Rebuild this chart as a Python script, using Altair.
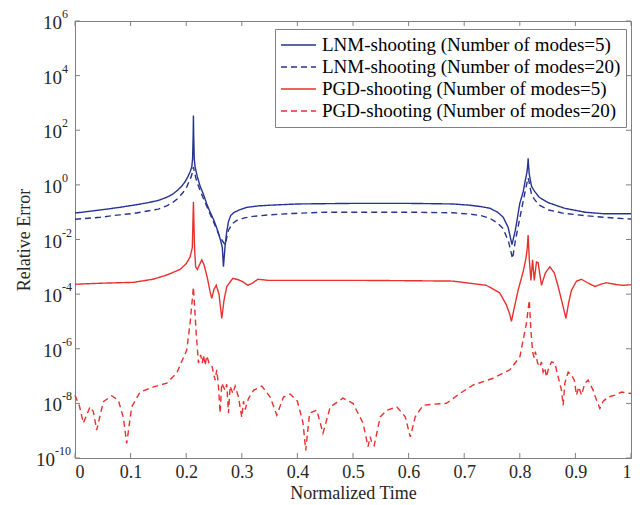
import altair as alt
import pandas as pd

series_names = [
    "LNM-shooting (Number of modes=5)",
    "LNM-shooting (Number of modes=20)",
    "PGD-shooting (Number of modes=5)",
    "PGD-shooting (Number of modes=20)",
]
series_colors = ["#26348f", "#26348f", "#e8312f", "#e8312f"]
series_dashes = [[1, 0], [6, 4], [1, 0], [6, 4]]

# LNM-shooting, 5 modes
lnm5_t = [0.000, 0.045, 0.080, 0.105, 0.130, 0.150, 0.165, 0.176, 0.185, 0.192, 0.198, 0.203,
          0.207, 0.210, 0.2115, 0.2125, 0.213, 0.2135, 0.2145, 0.216, 0.220, 0.225, 0.231,
          0.237, 0.243, 0.249, 0.254, 0.258, 0.262, 0.265, 0.267, 0.270, 0.273,
          0.276, 0.280, 0.285, 0.295, 0.309, 0.330, 0.350, 0.400, 0.500, 0.600, 0.680, 0.710,
          0.730, 0.746, 0.760, 0.770,
          0.779, 0.783, 0.786, 0.789, 0.792, 0.795, 0.800, 0.806, 0.810, 0.813, 0.8145, 0.815,
          0.8155, 0.817, 0.821, 0.826, 0.835, 0.852, 0.880, 0.917, 0.950, 1.000]
lnm5_v = [0.093, 0.12, 0.15, 0.18, 0.22, 0.27, 0.35, 0.46, 0.65, 0.9, 1.3, 2.0,
          3.0, 4.5, 9, 60, 350, 60, 9, 4.5, 2.0, 0.9, 0.45,
          0.2, 0.1, 0.055, 0.03, 0.017, 0.009, 0.005, 0.001, 0.006, 0.02,
          0.045, 0.075, 0.095, 0.12, 0.15, 0.17, 0.18, 0.2, 0.21, 0.21, 0.2, 0.18,
          0.16, 0.14, 0.1, 0.066,
          0.028, 0.012, 0.0065, 0.012, 0.022, 0.05, 0.21, 0.55, 1.5, 3.0, 6.0, 9.5,
          6.0, 2.5, 0.9, 0.6, 0.35, 0.22, 0.14, 0.1, 0.088, 0.088]

# LNM-shooting, 20 modes
lnm20_t = [0.000, 0.045, 0.080, 0.105, 0.130, 0.150, 0.165, 0.176, 0.186, 0.195, 0.201, 0.205,
           0.209, 0.211, 0.213, 0.215, 0.218, 0.222, 0.230, 0.240, 0.250, 0.260, 0.265, 0.270,
           0.276, 0.283, 0.291, 0.305, 0.320, 0.350, 0.393, 0.450, 0.600, 0.680,
           0.710, 0.730, 0.746, 0.760, 0.770, 0.780, 0.787, 0.792, 0.800, 0.808, 0.813, 0.815,
           0.817, 0.821, 0.826, 0.835, 0.852, 0.880, 0.917, 0.950, 1.000]
lnm20_v = [0.055, 0.065, 0.08, 0.09, 0.11, 0.13, 0.17, 0.23, 0.33, 0.55, 0.85, 1.3,
           2.0, 2.8, 4.5, 2.8, 1.6, 0.9, 0.35, 0.12, 0.04, 0.013, 0.009, 0.0063,
           0.022, 0.038, 0.05, 0.062, 0.07, 0.08, 0.09, 0.1, 0.1, 0.095,
           0.085, 0.075, 0.06, 0.04, 0.025, 0.008, 0.002, 0.009, 0.06, 0.4, 1.2, 1.8,
           1.2, 0.45, 0.3, 0.18, 0.12, 0.09, 0.075, 0.065, 0.056]

# PGD-shooting, 5 modes
pgd5_t = [0.000, 0.045, 0.105, 0.140, 0.165, 0.189, 0.200, 0.207, 0.211, 0.213, 0.215, 0.217,
          0.220, 0.224, 0.228, 0.232, 0.238, 0.243, 0.246, 0.250, 0.254, 0.259, 0.264, 0.268,
          0.273, 0.284, 0.295, 0.302, 0.311, 0.320, 0.329, 0.347, 0.400, 0.500, 0.600, 0.680,
          0.740, 0.764, 0.776, 0.782, 0.785, 0.789, 0.797, 0.806, 0.811, 0.813, 0.815, 0.817,
          0.820, 0.823, 0.826, 0.830, 0.833, 0.839, 0.846, 0.854, 0.862, 0.869, 0.876, 0.883,
          0.888, 0.893, 0.902, 0.911, 0.922, 0.935, 0.946, 0.956, 0.970, 0.985, 1.000]
pgd5_v = [2.3e-4, 2.5e-4, 2.7e-4, 3.5e-4, 5e-4, 8e-4, 1.3e-3, 2.3e-3, 5e-3, 0.24, 5e-3, 1e-3,
          8e-4, 1.2e-3, 1.8e-3, 1.2e-3, 4e-4, 1.2e-4, 7e-5, 1.5e-4, 2.1e-4, 1e-4, 1.3e-5, 6e-5,
          1.9e-4, 3.8e-4, 3.3e-4, 2.8e-4, 2.1e-4, 2.6e-4, 3.5e-4, 3.2e-4, 3.2e-4, 3.2e-4, 3.1e-4, 3.0e-4,
          2.1e-4, 1.1e-4, 4e-5, 1.8e-5, 1e-5, 2.5e-5, 1.4e-4, 6.6e-4, 2e-3, 4e-3, 0.0145, 2e-3,
          3.2e-4, 1.8e-3, 3.2e-4, 1.5e-3, 1.4e-3, 2.1e-4, 6e-4, 1e-3, 6e-4, 1.9e-4, 5e-5, 1.3e-5,
          5e-5, 1.4e-4, 3e-4, 3.5e-4, 2.6e-4, 1.9e-4, 2.3e-4, 2.6e-4, 2.3e-4, 2.1e-4, 2.2e-4]

# PGD-shooting, 20 modes
pgd20_t = [0.000, 0.008, 0.015, 0.027, 0.033, 0.039, 0.051, 0.066, 0.078, 0.087, 0.093, 0.102,
           0.117, 0.141, 0.165, 0.183, 0.201, 0.207, 0.213, 0.218, 0.222, 0.226, 0.229, 0.231,
           0.234, 0.237, 0.241, 0.246, 0.249, 0.252, 0.255, 0.258, 0.261, 0.264, 0.267, 0.270,
           0.273, 0.276, 0.279, 0.284, 0.288, 0.294, 0.300, 0.303, 0.306, 0.312, 0.321, 0.336,
           0.351, 0.363, 0.375, 0.387, 0.400, 0.410, 0.415, 0.422, 0.435, 0.446, 0.459, 0.482,
           0.500, 0.518, 0.527, 0.531, 0.534, 0.538, 0.549, 0.561, 0.579, 0.594, 0.603, 0.612,
           0.626, 0.644, 0.668, 0.692, 0.716, 0.752, 0.782, 0.800, 0.812, 0.817, 0.820, 0.823,
           0.826, 0.828, 0.832, 0.836, 0.839, 0.842, 0.845, 0.848, 0.851, 0.857, 0.863, 0.869,
           0.875, 0.878, 0.881, 0.887, 0.893, 0.898, 0.902, 0.906, 0.911, 0.917, 0.923, 0.932,
           0.938, 0.944, 0.950, 0.959, 0.971, 0.983, 1.000]
pgd20_v = [2.0e-8, 8e-9, 1.9e-9, 7.4e-9, 5e-9, 1.05e-9, 1.15e-8, 1.9e-8, 1.3e-8, 3e-9, 3.4e-10, 7.4e-9,
           2.6e-8, 4e-8, 5.5e-8, 1.3e-7, 8.9e-7, 8.7e-6, 1.8e-4, 3.7e-6, 3e-7, 6e-7, 3e-7, 5.9e-7,
           2.5e-7, 5.5e-7, 3e-7, 2.5e-7, 1.3e-7, 7.1e-8, 1.7e-7, 4.3e-8, 4.4e-9, 5.5e-8, 4e-8, 3e-8,
           5e-8, 4.4e-9, 4.3e-8, 2.3e-8, 4.3e-8, 1.7e-8, 3.1e-9, 1.2e-8, 6e-9, 1.5e-8, 3e-8, 4.3e-8,
           1.7e-8, 3.7e-9, 1.7e-8, 2.2e-8, 1.2e-8, 2e-9, 1.9e-10, 4.4e-9, 5.6e-9, 8.1e-10, 7.4e-9, 1.55e-8,
           1.0e-8, 1.9e-9, 2.6e-10, 6e-10, 3.5e-10, 2.8e-10, 3.2e-9, 5.6e-9, 7.4e-9, 3.2e-9, 5.9e-10, 3.2e-9,
           8.5e-9, 9.3e-9, 1.0e-8, 2.3e-8, 4.7e-8, 8.3e-8, 1.7e-7, 5e-7, 8.7e-6, 6e-5, 4.8e-6, 7.8e-7,
           4.6e-7, 7.8e-7, 3e-7, 2.2e-7, 3.3e-7, 1.4e-7, 2e-7, 9.3e-8, 1.7e-7, 3.3e-7, 3e-7, 9.3e-8,
           3e-8, 8.5e-9, 5.5e-8, 1.4e-7, 1.1e-7, 7.1e-8, 2e-8, 4e-8, 2e-8, 5.5e-8, 7.1e-8, 3e-8,
           1.3e-8, 6.5e-9, 1.2e-8, 1.7e-8, 2e-8, 2.6e-8, 2.3e-8]

x_ticks = [0, 0.1, 0.2, 0.3, 0.4, 0.5, 0.6, 0.7, 0.8, 0.9, 1]
y_ticks = [1e-10, 1e-8, 1e-6, 1e-4, 1e-2, 1e0, 1e2, 1e4, 1e6]
y_tick_exponents = ["-10", "-8", "-6", "-4", "-2", "0", "2", "4", "6"]

W, H = 556, 437
FONT = "Liberation Serif"
FRAME = "#808080"
TXT = "#262626"

rows = []
for name, ts, vs in zip(series_names, [lnm5_t, lnm20_t, pgd5_t, pgd20_t],
                        [lnm5_v, lnm20_v, pgd5_v, pgd20_v]):
    for t, v in zip(ts, vs):
        rows.append({"s": name, "t": t, "v": v})
df = pd.DataFrame(rows)

xscale = alt.Scale(domain=[0, 1], nice=False, zero=False)
yscale = alt.Scale(type="log", domain=[1e-10, 1e6], nice=False)

legend = alt.Legend(
    orient="none", legendX=200, legendY=8, title=None,
    symbolType="stroke", symbolSize=1225, symbolStrokeWidth=1.5,
    labelFont=FONT, labelFontSize=19, labelColor="#000000", labelLimit=500,
    labelOffset=5, strokeColor=FRAME, fillColor="white", padding=5,
    clipHeight=22, rowPadding=0,
)

lines = alt.Chart(df).mark_line(strokeWidth=1.4).encode(
    x=alt.X("t:Q", scale=xscale,
            axis=alt.Axis(values=x_ticks, title="Normalized Time", ticks=False, domain=False,
                          grid=False, labelExpr="toString(datum.value)", labelFontSize=18,
                          labelPadding=5, titleFontSize=18, titlePadding=3)),
    y=alt.Y("v:Q", scale=yscale,
            axis=alt.Axis(values=y_ticks, title="Relative Error", ticks=False, domain=False,
                          grid=False, labels=False, titleFontSize=18, titlePadding=42)),
    color=alt.Color("s:N", scale=alt.Scale(domain=series_names, range=series_colors),
                    legend=legend, sort=series_names),
    strokeDash=alt.StrokeDash("s:N", scale=alt.Scale(domain=series_names, range=series_dashes),
                              legend=legend, sort=series_names),
)

xt = pd.DataFrame({"t": x_ticks})
yt = pd.DataFrame({"v": y_ticks, "e": y_tick_exponents})
tick_len = 5
xb = alt.Chart(xt).mark_rule(color=FRAME, strokeWidth=1).encode(
    x="t:Q", y=alt.value(H), y2=alt.value(H - tick_len))
xtp = alt.Chart(xt).mark_rule(color=FRAME, strokeWidth=1).encode(
    x="t:Q", y=alt.value(0), y2=alt.value(tick_len))
yl = alt.Chart(yt).mark_rule(color=FRAME, strokeWidth=1).encode(
    y="v:Q", x=alt.value(0), x2=alt.value(tick_len))
yr = alt.Chart(yt).mark_rule(color=FRAME, strokeWidth=1).encode(
    y="v:Q", x=alt.value(W), x2=alt.value(W - tick_len))

# y tick labels: "10" with a raised exponent
short = "length(datum.e) < 3"
long_ = "length(datum.e) >= 3"
base_short = alt.Chart(yt).transform_filter(short).mark_text(
    text="10", align="right", baseline="middle", font=FONT, fontSize=19, color=TXT, dy=2
).encode(y="v:Q", x=alt.value(-13))
base_long = alt.Chart(yt).transform_filter(long_).mark_text(
    text="10", align="right", baseline="middle", font=FONT, fontSize=19, color=TXT, dy=2
).encode(y="v:Q", x=alt.value(-20))
exp_short = alt.Chart(yt).transform_filter(short).mark_text(
    align="left", baseline="middle", font=FONT, fontSize=12, color=TXT, dy=-7
).encode(y="v:Q", x=alt.value(-13), text="e:N")
exp_long = alt.Chart(yt).transform_filter(long_).mark_text(
    align="left", baseline="middle", font=FONT, fontSize=12, color=TXT, dy=-7
).encode(y="v:Q", x=alt.value(-20), text="e:N")

chart = alt.layer(xb, xtp, yl, yr, base_short, base_long, exp_short, exp_long, lines).properties(
    width=W, height=H,
    autosize=alt.AutoSizeParams(type="none"),
    padding={"left": 75, "top": 21, "right": 9, "bottom": 47},
    background="white",
).configure_view(
    stroke=FRAME, strokeWidth=1
).configure_axis(
    labelFont=FONT, titleFont=FONT, labelColor=TXT, titleColor=TXT, titleFontWeight="normal"
).configure_legend(
    labelFont=FONT
)

chart.save("out.html", embed_options={"renderer": "svg", "actions": False})
